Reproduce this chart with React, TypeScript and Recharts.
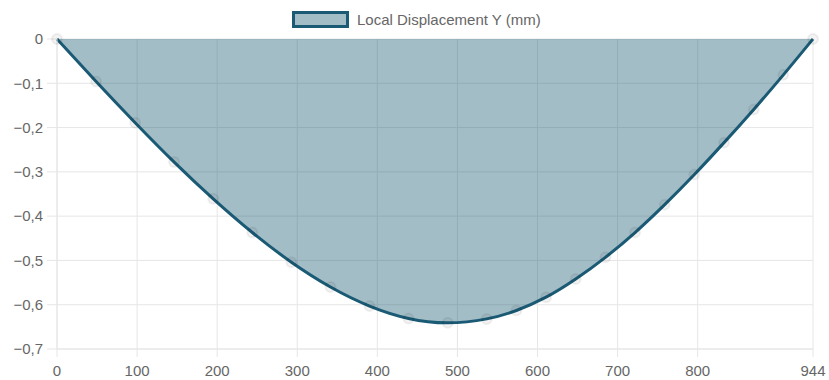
import { Area, AreaChart, CartesianGrid, XAxis, YAxis } from "recharts";

const positions = [
  0, 48.8, 97.6, 146.3, 195.1, 243.9, 292.7, 341.5, 390.3, 439, 487.8, 536.6,
  573.6, 610.7, 647.7, 684.8, 721.8, 758.8, 795.9, 832.9, 870, 907, 944,
];
const displacementY = [
  0, -0.096, -0.189, -0.278, -0.361, -0.437, -0.504, -0.56, -0.603, -0.631,
  -0.641, -0.632, -0.613, -0.583, -0.542, -0.493, -0.437, -0.374, -0.306,
  -0.234, -0.159, -0.081, 0,
];
const xTicks = [0, 100, 200, 300, 400, 500, 600, 700, 800, 944];
const yTicks = [0, -0.1, -0.2, -0.3, -0.4, -0.5, -0.6, -0.7];
const seriesName = "Local Displacement Y (mm)";

const LINE = "#1a5a74";
const GRID = "#e6e6e6";
const FONT = "'Liberation Sans', Arial, sans-serif";

const data = positions.map((x, i) => ({ x, y: displacementY[i] }));

// comma decimals + real minus sign, like the original
const fmtY = (v: number) =>
  v === 0 ? "0" : "\u2212" + Math.abs(v).toFixed(1).replace(".", ",");

export default function App() {
  return (
    <div style={{ position: "absolute", left: 0, top: 0, width: 829, height: 380, fontFamily: FONT }}>
      <div
        style={{
          position: "absolute",
          left: 292,
          top: 11,
          display: "flex",
          alignItems: "center",
          fontSize: 15,
          color: "#666",
        }}
      >
        <span
          style={{
            display: "inline-block",
            width: 51,
            height: 11,
            border: `3px solid ${LINE}`,
            background: "rgba(26,90,116,0.4)",
            marginRight: 8,
          }}
        />
        {seriesName}
      </div>
      <AreaChart
        width={829}
        height={380}
        data={data}
        margin={{ top: 39, right: 16, left: 0, bottom: 0 }}
      >
        <CartesianGrid stroke={GRID} strokeWidth={1} />
        <XAxis
          dataKey="x"
          type="number"
          domain={[0, 944]}
          ticks={xTicks}
          interval={0}
          height={31}
          tickSize={8}
          tickMargin={8}
          stroke={GRID}
          tick={{ fill: "#666", fontSize: 15, fontFamily: FONT }}
        />
        <YAxis
          type="number"
          domain={[-0.7, 0]}
          ticks={yTicks}
          interval={0}
          width={57}
          tickSize={10}
          tickMargin={4}
          stroke={GRID}
          tickFormatter={fmtY}
          tick={{ fill: "#666", fontSize: 15, fontFamily: FONT }}
        />
        <Area
          type="natural"
          dataKey="y"
          name={seriesName}
          baseValue={0}
          stroke={LINE}
          strokeWidth={3}
          fill={LINE}
          fillOpacity={0.4}
          dot={{ r: 5, fill: "rgba(0,0,0,0.12)", stroke: "rgba(0,0,0,0.06)", strokeWidth: 2 }}
          activeDot={false}
          isAnimationActive={false}
        />
      </AreaChart>
    </div>
  );
}
